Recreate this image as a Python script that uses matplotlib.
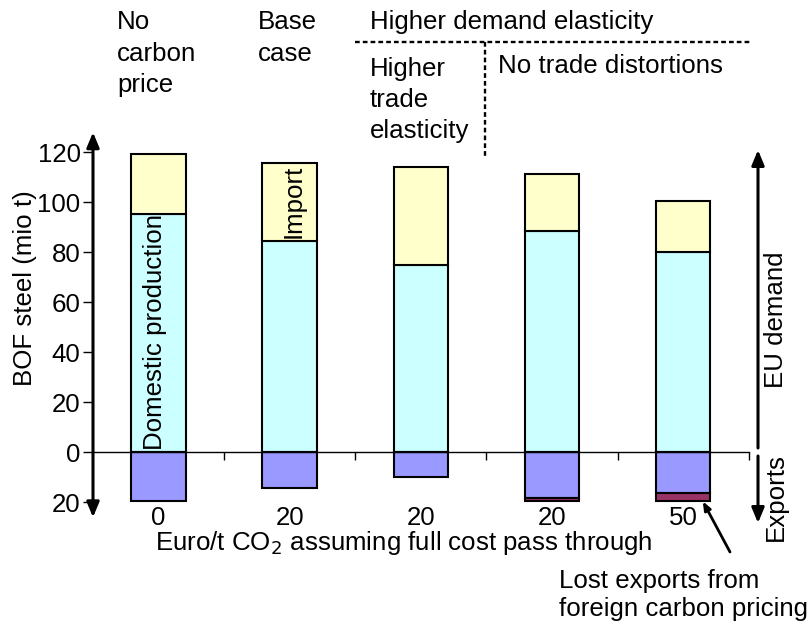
import matplotlib
matplotlib.use("Agg")
import matplotlib.pyplot as plt
from matplotlib.patches import FancyArrowPatch
import numpy as np

plt.rcParams['font.family'] = ['Liberation Sans', 'DejaVu Sans']

# ---- data ----
categories = ["0", "20", "20", "20", "50"]
domestic = [95.2, 84.6, 74.9, 88.6, 80.1]
imports = [24.1, 31.0, 39.1, 22.6, 20.5]
exports = [19.4, 14.4, 9.7, 18.3, 16.4]
lost_exports = [0.0, 0.0, 0.0, 1.1, 3.0]
yticks = [120, 100, 80, 60, 40, 20, 0, -20]
yticklabels = ["120", "100", "80", "60", "40", "20", "0", "20"]

c_dom = "#CCFFFF"
c_imp = "#FFFFCC"
c_exp = "#9999FF"
c_lost = "#993366"

W, H = 811, 626
fig = plt.figure(figsize=(W / 100, H / 100), dpi=100)
ax = fig.add_axes([93 / W, 1 - 517.3 / H, (748.7 - 93) / W, (517.3 - 132.3) / H])


def fx(px):
    return px / W


def fy(py):
    return 1 - py / H


x = np.arange(len(categories))
bw = 0.415
lw = 1.5
ax.bar(x, domestic, bw, color=c_dom, edgecolor="black", linewidth=lw, zorder=2)
ax.bar(x, imports, bw, bottom=domestic, color=c_imp, edgecolor="black", linewidth=lw, zorder=2)
neg_exp = [-e for e in exports]
ax.bar(x, neg_exp, bw, color=c_exp, edgecolor="black", linewidth=lw, zorder=2)
for i, l in enumerate(lost_exports):
    if l > 0:
        ax.bar(x[i], -l, bw, bottom=neg_exp[i], color=c_lost, edgecolor="black",
               linewidth=lw, zorder=2)

ax.set_xlim(-0.5, 4.5)
ax.set_ylim(-26, 128)

fs = 18.6
# spines
for s in ["top", "right", "left"]:
    ax.spines[s].set_visible(False)
ax.spines["bottom"].set_position(("data", 0))
ax.spines["bottom"].set_linewidth(1.0)
ax.spines["bottom"].set_zorder(3)
ax.set_xticks([0.5, 1.5, 2.5, 3.5, 4.5])
ax.set_xticklabels([])
ax.tick_params(axis="x", direction="out", length=6, width=1)
ax.set_yticks(yticks)
ax.set_yticklabels(yticklabels, fontsize=fs)
ax.tick_params(axis="y", direction="out", length=7, width=1, pad=2)

# left axis as double arrow
ax.add_patch(FancyArrowPatch((-0.5, -26), (-0.5, 128), arrowstyle="<|-|>,head_length=6,head_width=2.5",
                             mutation_scale=1.5, color="black", linewidth=2.2,
                             clip_on=False, zorder=4, shrinkA=0, shrinkB=0))

fig.text(fx(25), fy(288), "BOF steel (mio t)", rotation=90, ha="center", va="center", fontsize=fs)

# category labels
for xi, lab in zip(x, categories):
    ax.text(xi, -26.3, lab, ha="center", va="center", fontsize=fs, clip_on=False)

fig.text(fx(155), fy(543), "Euro/t CO$_2$ assuming full cost pass through",
         ha="left", va="center", fontsize=fs)

# in-bar labels
ax.text(x[0] - 0.03, 1, "Domestic production", rotation=90, ha="center", va="bottom", fontsize=fs)
ax.text(x[1] + 0.03, domestic[1] + 1, "Import", rotation=90, ha="center", va="bottom", fontsize=fs)

# right arrows
xr = 758
fig.patches.append(FancyArrowPatch((fx(xr), fy(448)), (fx(xr), fy(150)), transform=fig.transFigure,
                                   arrowstyle="-|>,head_length=6,head_width=2.5", mutation_scale=1.5,
                                   color="black", linewidth=2.2, shrinkA=0, shrinkB=0))
fig.patches.append(FancyArrowPatch((fx(xr), fy(456)), (fx(xr), fy(523)), transform=fig.transFigure,
                                   arrowstyle="-|>,head_length=6,head_width=2.5", mutation_scale=1.5,
                                   color="black", linewidth=2.2, shrinkA=0, shrinkB=0))
fig.text(fx(776), fy(320), "EU demand", rotation=90, ha="center", va="center", fontsize=fs)
fig.text(fx(776), fy(497), "Exports", rotation=90, ha="center", va="center", fontsize=fs)

# top annotations
ls = 1.4
fig.text(fx(117), fy(10), "No\ncarbon\nprice", ha="left", va="top", fontsize=fs, linespacing=ls)
fig.text(fx(258), fy(10), "Base\ncase", ha="left", va="top", fontsize=fs, linespacing=ls)
fig.text(fx(370), fy(10), "Higher demand elasticity", ha="left", va="top", fontsize=fs)
fig.text(fx(370), fy(57), "Higher\ntrade\nelasticity", ha="left", va="top", fontsize=fs, linespacing=1.36)
fig.text(fx(498), fy(54), "No trade distortions", ha="left", va="top", fontsize=fs)
fig.add_artist(plt.Line2D([fx(355), fx(750)], [fy(42), fy(42)], transform=fig.transFigure,
                          color="black", linestyle=(0, (2, 1.3)), linewidth=1.7))
fig.add_artist(plt.Line2D([fx(485), fx(485)], [fy(42), fy(156)], transform=fig.transFigure,
                          color="black", linestyle=(0, (2, 1.3)), linewidth=1.7))

# lost exports annotation
ax.annotate("", xy=(4 + 0.15, -19.6), xycoords="data",
            xytext=(fx(730), fy(552)), textcoords="figure fraction",
            arrowprops=dict(arrowstyle="-|>,head_length=0.5,head_width=0.2", color="black",
                            linewidth=2, shrinkA=0, shrinkB=0), annotation_clip=False)
fig.text(fx(559), fy(595), "Lost exports from\nforeign carbon pricing", ha="left", va="center",
         fontsize=fs, linespacing=1.25)

fig.savefig("out.png", dpi=100)
